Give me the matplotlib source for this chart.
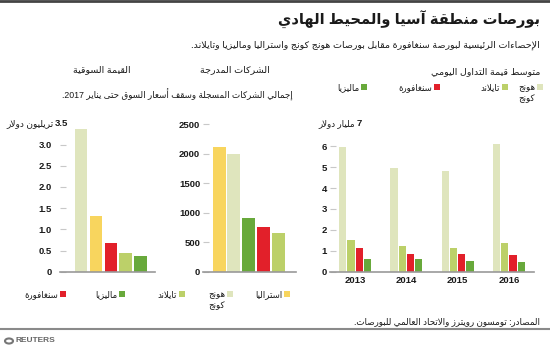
import re
import matplotlib
matplotlib.use('Agg')
import matplotlib.pyplot as plt
from matplotlib.patches import Rectangle, Circle

# --- data ---
mv_names = ['هونج كونج', 'استراليا', 'سنغافورة', 'تايلاند', 'ماليزيا']
mv_values = [3.37, 1.32, 0.68, 0.45, 0.38]          # trillion $

lc_names = ['استراليا', 'هونج كونج', 'ماليزيا', 'سنغافورة', 'تايلاند']
lc_values = [2105, 1995, 903, 762, 655]              # listed companies

years = ['2013', '2014', '2015', '2016']
tv_hk = [5.95, 4.95, 4.82, 6.12]                     # billion $ per day
tv_th = [1.52, 1.21, 1.12, 1.37]
tv_sg = [1.15, 0.86, 0.85, 0.80]
tv_my = [0.60, 0.62, 0.51, 0.45]

colors = {'هونج كونج': '#dfe5bd', 'استراليا': '#f8d55e', 'سنغافورة': '#e2202a',
          'تايلاند': '#bcd069', 'ماليزيا': '#68a93b'}

# --- tiny arabic shaper (matplotlib has no complex text layout) ---
bases = {'ء': 0xFE80, 'آ': 0xFE81, 'أ': 0xFE83, 'ؤ': 0xFE85, 'إ': 0xFE87, 'ئ': 0xFE89,
         'ا': 0xFE8D, 'ب': 0xFE8F, 'ة': 0xFE93, 'ت': 0xFE95, 'ث': 0xFE99, 'ج': 0xFE9D,
         'ح': 0xFEA1, 'خ': 0xFEA5, 'د': 0xFEA9, 'ذ': 0xFEAB, 'ر': 0xFEAD, 'ز': 0xFEAF,
         'س': 0xFEB1, 'ش': 0xFEB5, 'ص': 0xFEB9, 'ض': 0xFEBD, 'ط': 0xFEC1, 'ظ': 0xFEC5,
         'ع': 0xFEC9, 'غ': 0xFECD, 'ف': 0xFED1, 'ق': 0xFED5, 'ك': 0xFED9, 'ل': 0xFEDD,
         'م': 0xFEE1, 'ن': 0xFEE5, 'ه': 0xFEE9, 'و': 0xFEED, 'ى': 0xFEEF, 'ي': 0xFEF1}
dual = set('ئبتثجحخسشصضطظعغفقكلمنهي')
lamalef = {'آ': 0xFEF5, 'أ': 0xFEF7, 'إ': 0xFEF9, 'ا': 0xFEFB}


def shape_line(s):
    units = []
    i = 0
    while i < len(s):
        c = s[i]
        if c == 'ل' and i + 1 < len(s) and s[i + 1] in lamalef:
            units.append((lamalef[s[i + 1]], 'R'))
            i += 2
            continue
        if c in bases:
            t = 'D' if c in dual else ('U' if c == 'ء' else 'R')
            units.append((bases[c], t))
        else:
            units.append((c, None))
        i += 1
    out = []
    for k, (b, t) in enumerate(units):
        if t is None:
            out.append(b)
            continue
        if t == 'U':
            out.append(chr(b))
            continue
        jp = k > 0 and units[k - 1][1] == 'D'
        jn = t == 'D' and k + 1 < len(units) and units[k + 1][1] in ('D', 'R')
        off = 3 if (jp and jn) else 1 if jp else 2 if jn else 0
        out.append(chr(b + off))
    vis = ''.join(out)[::-1]
    return re.sub(r'[0-9A-Za-z][0-9A-Za-z.]*[0-9A-Za-z]|[0-9A-Za-z]',
                  lambda m: m.group(0)[::-1], vis)


def ar(s):
    return '\n'.join(shape_line(l) for l in s.split('\n'))


FONT = ['Liberation Sans', 'DejaVu Sans']
plt.rcParams['font.family'] = FONT

W, H = 550, 348
fig = plt.figure(figsize=(W / 100, H / 100), dpi=100)


def fx(x):
    return x / W


def fy(y):
    return 1 - y / H


def ftext(x, y, s, size=7, ha='right', va='center', **kw):
    fig.text(fx(x), fy(y), ar(s), size=size, ha=ha, va=va, color='#1a1a1a', **kw)


def square(x, y, c, s=6):
    fig.add_artist(Rectangle((fx(x - s / 2), fy(y + s / 2)), s / W, s / H,
                             transform=fig.transFigure, color=c, lw=0))


def style(ax):
    for sp in ['top', 'right', 'left']:
        ax.spines[sp].set_visible(False)
    ax.spines['bottom'].set_color('#999999')
    ax.spines['bottom'].set_linewidth(1.2)
    ax.tick_params(axis='y', direction='in', length=4, width=0.8, color='#c8c8c8',
                   labelsize=6.8, pad=2)
    ax.tick_params(axis='x', length=0, labelsize=6.8, pad=3)
    for lab in ax.get_yticklabels() + ax.get_xticklabels():
        lab.set_fontweight('bold')
        lab.set_color('#1a1a1a')
    ax.set_facecolor('none')


bottom = fy(271.7)

# market value
ax1 = fig.add_axes([fx(60), bottom, fx(155 - 60), (271.7 - 123.3) / H])
ax1.bar(range(len(mv_values)), mv_values, width=0.845, color=[colors[n] for n in mv_names])
ax1.set_xlim(-1.43, 4.99)
ax1.set_ylim(0, 3.5)
ax1.set_yticks([0, 0.5, 1.0, 1.5, 2.0, 2.5, 3.0])
ax1.set_yticklabels(['0', '0.5', '1.0', '1.5', '2.0', '2.5', '3.0'])
ax1.set_xticks([])
style(ax1)
ax1.tick_params(axis='y', pad=6)

# listed companies
ax2 = fig.add_axes([fx(203), bottom, fx(296 - 203), (271.7 - 124) / H])
ax2.bar(range(len(lc_values)), lc_values, width=0.88, color=[colors[n] for n in lc_names])
ax2.set_xlim(-1.09, 5.19)
ax2.set_ylim(0, 2500)
ax2.set_yticks(range(0, 2501, 500))
ax2.set_xticks([])
style(ax2)

# daily trading value
ax3 = fig.add_axes([fx(330), bottom, fx(534 - 330), (271.5 - 125.2) / H])
xs = range(len(years))
for off, vals, name in [(-1.5, tv_hk, 'هونج كونج'), (-0.5, tv_th, 'تايلاند'),
                        (0.5, tv_sg, 'سنغافورة'), (1.5, tv_my, 'ماليزيا')]:
    ax3.bar([x + off * 0.16 for x in xs], vals, width=0.142, color=colors[name])
ax3.set_xlim(-0.49, 3.49)
ax3.set_ylim(0, 7)
ax3.set_yticks(range(0, 7))
ax3.set_xticks(list(xs))
ax3.set_xticklabels(years)
style(ax3)

# top-of-axis unit labels
fig.text(fx(68), fy(124), '3.5', size=6.8, fontweight='bold', ha='right', va='center',
         color='#1a1a1a')
ftext(54, 124, 'تريليون دولار', size=6.5)
fig.text(fx(362), fy(124), '7', size=6.8, fontweight='bold', ha='right', va='center',
         color='#1a1a1a')
ftext(355, 124, 'مليار دولار', size=6.3)

# --- text ---
fig.add_artist(plt.Line2D([0, 1], [fy(1), fy(1)], transform=fig.transFigure,
                          color='#444444', lw=2))
ftext(540, 20, 'بورصات منطقة آسيا والمحيط الهادي', size=10.5, fontweight='bold')
ftext(540, 45, 'الإحصاءات الرئيسية لبورصة سنغافورة مقابل بورصات هونج كونج واستراليا وماليزيا وتايلاند.', size=6.8)
ftext(131, 70, 'القيمة السوقية', size=6.8)
ftext(270, 70, 'الشركات المدرجة', size=6.8)
ftext(540, 72, 'متوسط قيمة التداول اليومي', size=6.8)
ftext(293, 95, 'إجمالي الشركات المسجلة وسقف أسعار السوق حتى يناير 2017.', size=6.3)

# legend above right panel
for x, name in [(540, 'هونج كونج'), (505, 'تايلاند'), (437, 'سنغافورة'), (364, 'ماليزيا')]:
    square(x, 87, colors[name])
    ftext(x - 5, 83, name.replace(' ', '\n'), size=6.2, va='top', linespacing=1.3)

# legend below left panels
for x, name in [(287, 'استراليا'), (230, 'هونج كونج'), (182, 'تايلاند'),
                (122, 'ماليزيا'), (63, 'سنغافورة')]:
    square(x, 294, colors[name])
    ftext(x - 5, 290, name.replace(' ', '\n'), size=6.2, va='top', linespacing=1.3)

ftext(540, 322, 'المصادر: تومسون رويترز والاتحاد العالمي للبورصات.', size=6.3)
fig.add_artist(plt.Line2D([0, 1], [fy(329), fy(329)], transform=fig.transFigure,
                          color='#8a8a8a', lw=1.5))
fig.add_artist(Circle((fx(9), fy(341)), 4 / W, transform=fig.transFigure,
                      facecolor='none', edgecolor='#777777', lw=1.5))
fig.text(fx(16), fy(341), 'REUTERS', size=6, fontweight='bold', color='#666666',
         ha='left', va='center')

fig.savefig('out.png', dpi=100, facecolor='white')
